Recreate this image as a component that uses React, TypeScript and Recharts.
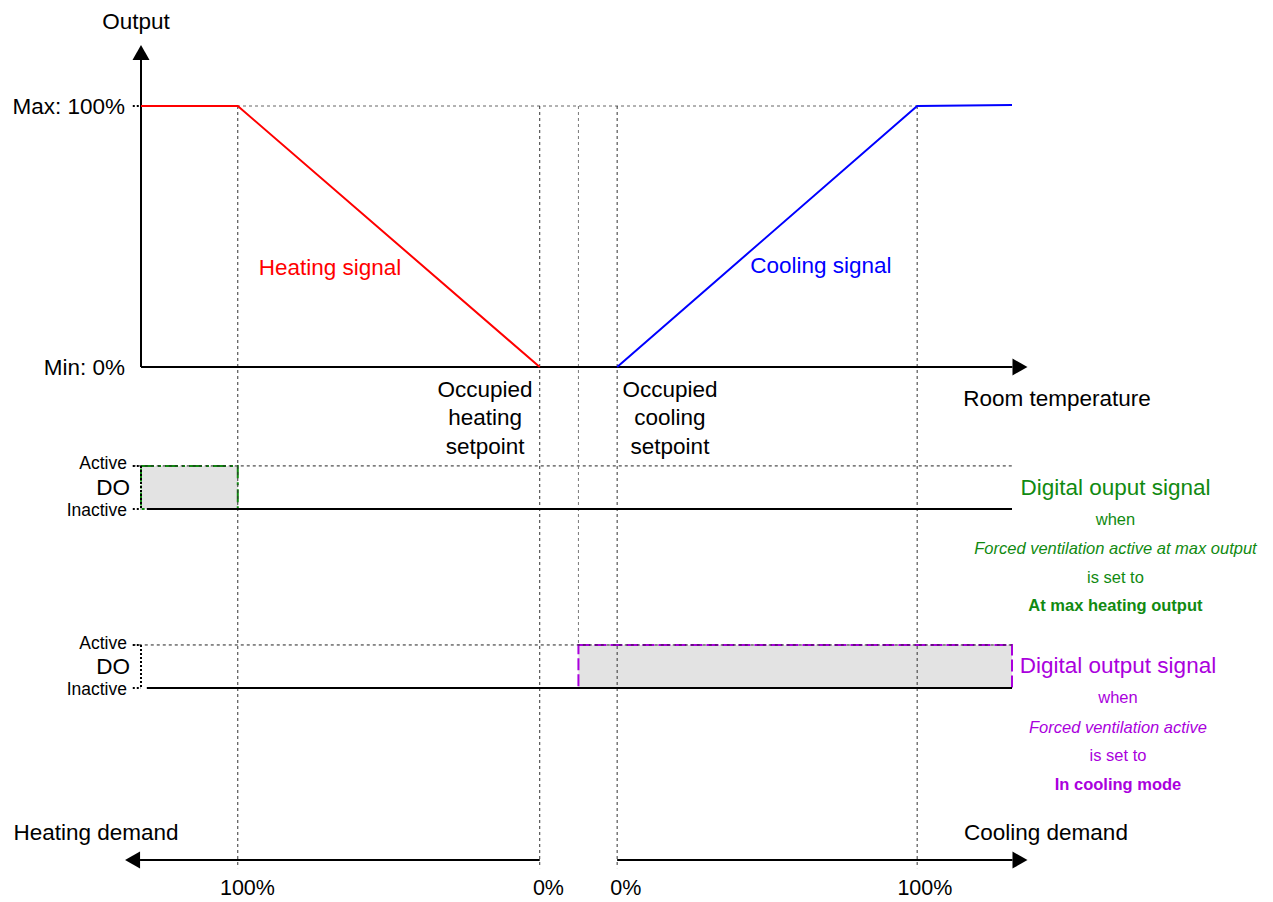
import React from 'react';
import {
  ComposedChart,
  Line,
  XAxis,
  YAxis,
  ReferenceLine,
  ReferenceArea,
  ReferenceDot,
} from 'recharts';

const FONT = '"Liberation Sans", Arial, Helvetica, sans-serif';
const GREEN = '#118a11';
const PURPLE = '#aa00dd';
const RED = '#ff0000';
const BLUE = '#0000ff';

// ---- Room temperature positions (arbitrary units) ----
const heatFull = 10; // 100 % heating demand
const heatSet = 41.2; // occupied heating setpoint (0 % heating)
const coolStart = 45.2; // cooling mode begins
const coolSet = 49.2; // occupied cooling setpoint (0 % cooling)
const coolFull = 80.2; // 100 % cooling demand
const xEnd = 90;

// ---- Output signals (%) ----
const heatingX = [0, heatFull, heatSet];
const heatingY = [100, 100, 0];
const coolingX = [coolSet, coolFull, xEnd];
const coolingY = [0, 100, 100.4];

const heatingData = heatingX.map((x, i) => ({ x, y: heatingY[i] }));
const coolingData = coolingX.map((x, i) => ({ x, y: coolingY[i] }));

// ---- Guide lines ----
const guideX = [heatFull, heatSet, coolStart, coolSet, coolFull];
const guideBottom = [-192, -192, -106.5, -192, -192];

// ---- Digital output bands (vertical layout units) ----
const doActive = [-37.9, -106.5];
const doInactive = [-54.4, -123];
const doOnStart = [0, coolStart];
const doOnEnd = [heatFull, xEnd];
const doStroke = [GREEN, PURPLE];
const doDash = ['13 4 3 4', '12 4'];

// ---- Demand axis ----
const demandY = -188.9;
const demandTickLabels = ['100%', '0%', '0%', '100%'];
const demandTickX = [11.0, 42.1, 50.1, 81.0];

type Note = {
  x: number;
  y: number;
  text: string;
  anchor?: 'start' | 'middle' | 'end';
  size?: number;
  color?: string;
  italic?: boolean;
  bold?: boolean;
};

const BIG = 22.5;
const SMALL = 16.5;

const notes: Note[] = [
  { x: -0.52, y: 132.2, text: 'Output' },
  { x: -1.65, y: 100, text: 'Max: 100%', anchor: 'end' },
  { x: -1.65, y: 0, text: 'Min: 0%', anchor: 'end' },
  { x: 19.53, y: 38.3, text: 'Heating signal', color: RED },
  { x: 70.26, y: 38.7, text: 'Cooling signal', color: BLUE },
  { x: 35.55, y: -8.43, text: 'Occupied' },
  { x: 35.55, y: -19.54, text: 'heating' },
  { x: 35.55, y: -30.27, text: 'setpoint' },
  { x: 54.66, y: -8.43, text: 'Occupied' },
  { x: 54.66, y: -19.54, text: 'cooling' },
  { x: 54.66, y: -30.27, text: 'setpoint' },
  { x: 94.65, y: -11.88, text: 'Room temperature' },
  { x: -1.45, y: -36.78, text: 'Active', anchor: 'end', size: 17.5 },
  { x: -2.89, y: -45.98, text: 'DO' },
  { x: -1.45, y: -54.79, text: 'Inactive', anchor: 'end', size: 17.5 },
  { x: -1.45, y: -105.75, text: 'Active', anchor: 'end', size: 17.5 },
  { x: -2.89, y: -114.56, text: 'DO' },
  { x: -1.45, y: -123.37, text: 'Inactive', anchor: 'end', size: 17.5 },
  { x: 100.69, y: -46.36, text: 'Digital ouput signal', color: GREEN },
  { x: 100.69, y: -58.24, text: 'when', color: GREEN, size: SMALL },
  { x: 100.69, y: -69.35, text: 'Forced ventilation active at max output', color: GREEN, size: SMALL, italic: true },
  { x: 100.69, y: -80.46, text: 'is set to', color: GREEN, size: SMALL },
  { x: 100.69, y: -91.19, text: 'At max heating output', color: GREEN, size: SMALL, bold: true },
  { x: 100.95, y: -114.18, text: 'Digital output signal', color: PURPLE },
  { x: 100.95, y: -126.44, text: 'when', color: PURPLE, size: SMALL },
  { x: 100.95, y: -137.93, text: 'Forced ventilation active', color: PURPLE, size: SMALL, italic: true },
  { x: 100.95, y: -148.66, text: 'is set to', color: PURPLE, size: SMALL },
  { x: 100.95, y: -159.77, text: 'In cooling mode', color: PURPLE, size: SMALL, bold: true },
  { x: -4.65, y: -178.54, text: 'Heating demand' },
  { x: 93.51, y: -178.54, text: 'Cooling demand' },
];

const arrowShape = (color: string, w: number) => (p: any) => {
  const { x1, y1, x2, y2 } = p;
  const dx = x2 - x1;
  const dy = y2 - y1;
  const len = Math.hypot(dx, dy) || 1;
  const ux = dx / len;
  const uy = dy / len;
  const L = 15;
  const H = 8.5;
  const bx = x2 - ux * L;
  const by = y2 - uy * L;
  return (
    <g>
      <line x1={x1} y1={y1} x2={bx} y2={by} stroke={color} strokeWidth={w} />
      <polygon
        points={`${x2},${y2} ${bx - uy * H},${by + ux * H} ${bx + uy * H},${by - ux * H}`}
        fill={color}
      />
    </g>
  );
};

const renderNote = (n: Note, i: number) => (
  <ReferenceDot
    key={`note-${i}`}
    x={n.x}
    y={n.y}
    r={0}
    ifOverflow="visible"
    shape={(p: any) => (
      <text
        x={p.cx}
        y={p.cy}
        textAnchor={n.anchor || 'middle'}
        dominantBaseline="central"
        fontFamily={FONT}
        fontSize={n.size || BIG}
        fill={n.color || '#000'}
        fontStyle={n.italic ? 'italic' : 'normal'}
        fontWeight={n.bold ? 'bold' : 'normal'}
      >
        {n.text}
      </text>
    )}
  />
);

export default function App() {
  return (
    <div style={{ position: 'absolute', left: 0, top: 0, background: '#fff' }}>
      <ComposedChart
        width={1273}
        height={902}
        margin={{ top: 40.75, right: 261, bottom: 13, left: 141 }}
      >
        <XAxis type="number" dataKey="x" domain={[0, xEnd]} allowDataOverflow hide />
        <YAxis type="number" dataKey="y" domain={[-200, 125]} allowDataOverflow hide />

        {/* Dotted "active" level lines (under the areas) */}
        {doActive.map((a, i) => (
          <ReferenceLine
            key={`act-${i}`}
            segment={[{ x: -0.85, y: a }, { x: xEnd, y: a }]}
            stroke="#222"
            strokeDasharray="3 3"
            strokeWidth={1}
            ifOverflow="visible"
          />
        ))}

        {/* DO active areas */}
        {doOnStart.map((s, i) => (
          <ReferenceArea
            key={`area-${i}`}
            x1={s}
            x2={doOnEnd[i]}
            y1={doInactive[i]}
            y2={doActive[i]}
            ifOverflow="visible"
            fill="#e3e3e3"
            fillOpacity={1}
            stroke={doStroke[i]}
            strokeWidth={2}
            strokeDasharray={doDash[i]}
          />
        ))}

        {/* Dotted guides */}
        <ReferenceLine
          segment={[{ x: 0, y: 100 }, { x: coolFull, y: 100 }]}
          stroke="#666"
          strokeDasharray="3 3"
          strokeWidth={1}
          ifOverflow="visible"
        />
        {guideX.map((gx, i) => (
          <ReferenceLine
            key={`guide-${i}`}
            segment={[{ x: gx, y: 100 }, { x: gx, y: guideBottom[i] }]}
            stroke={i === 2 ? '#777' : '#333'}
            strokeDasharray="3 3"
            strokeWidth={1}
            ifOverflow="visible"
          />
        ))}
        <ReferenceLine
          segment={[{ x: -0.85, y: 100 }, { x: 0, y: 100 }]}
          stroke="#000"
          strokeDasharray="2 2"
          strokeWidth={2}
          ifOverflow="visible"
        />

        {/* DO band ticks and lines */}
        {doActive.map((a, i) => (
          <ReferenceLine
            key={`actTick-${i}`}
            segment={[{ x: -0.85, y: a }, { x: 0, y: a }]}
            stroke="#000"
            strokeDasharray="2 2"
            strokeWidth={2}
            ifOverflow="visible"
          />
        ))}
        {doInactive.map((b, i) => (
          <ReferenceLine
            key={`inTick-${i}`}
            segment={[{ x: -0.85, y: b }, { x: 0, y: b }]}
            stroke="#000"
            strokeDasharray="2 2"
            strokeWidth={2}
            ifOverflow="visible"
          />
        ))}
        {doInactive.map((b, i) => (
          <ReferenceLine
            key={`vert-${i}`}
            segment={[{ x: 0, y: doActive[i] }, { x: 0, y: b }]}
            stroke="#000"
            strokeDasharray="2 2"
            strokeWidth={2}
            ifOverflow="visible"
          />
        ))}
        {doInactive.map((b, i) => (
          <ReferenceLine
            key={`inact-${i}`}
            segment={[{ x: 0.6, y: b }, { x: xEnd, y: b }]}
            stroke="#000"
            strokeWidth={2}
            ifOverflow="visible"
          />
        ))}

        {/* Main axes with arrows */}
        <ReferenceLine
          segment={[{ x: 0, y: 0 }, { x: 0, y: 123.4 }]}
          ifOverflow="visible"
          shape={arrowShape('#000', 2)}
        />
        <ReferenceLine
          segment={[{ x: 0, y: 0 }, { x: 91.6, y: 0 }]}
          ifOverflow="visible"
          shape={arrowShape('#000', 2)}
        />

        {/* Demand arrows */}
        <ReferenceLine
          segment={[{ x: heatSet, y: demandY }, { x: -1.65, y: demandY }]}
          ifOverflow="visible"
          shape={arrowShape('#000', 2)}
        />
        <ReferenceLine
          segment={[{ x: coolSet, y: demandY }, { x: 91.6, y: demandY }]}
          ifOverflow="visible"
          shape={arrowShape('#000', 2)}
        />

        {/* Signals */}
        <Line
          data={heatingData}
          dataKey="y"
          type="linear"
          stroke={RED}
          strokeWidth={2}
          dot={false}
          isAnimationActive={false}
        />
        <Line
          data={coolingData}
          dataKey="y"
          type="linear"
          stroke={BLUE}
          strokeWidth={2}
          dot={false}
          isAnimationActive={false}
        />

        {demandTickLabels.map((t, i) =>
          renderNote({ x: demandTickX[i], y: -199.6, text: t, size: 21.5 }, 100 + i)
        )}
        {notes.map((n, i) => renderNote(n, i))}
      </ComposedChart>
    </div>
  );
}
